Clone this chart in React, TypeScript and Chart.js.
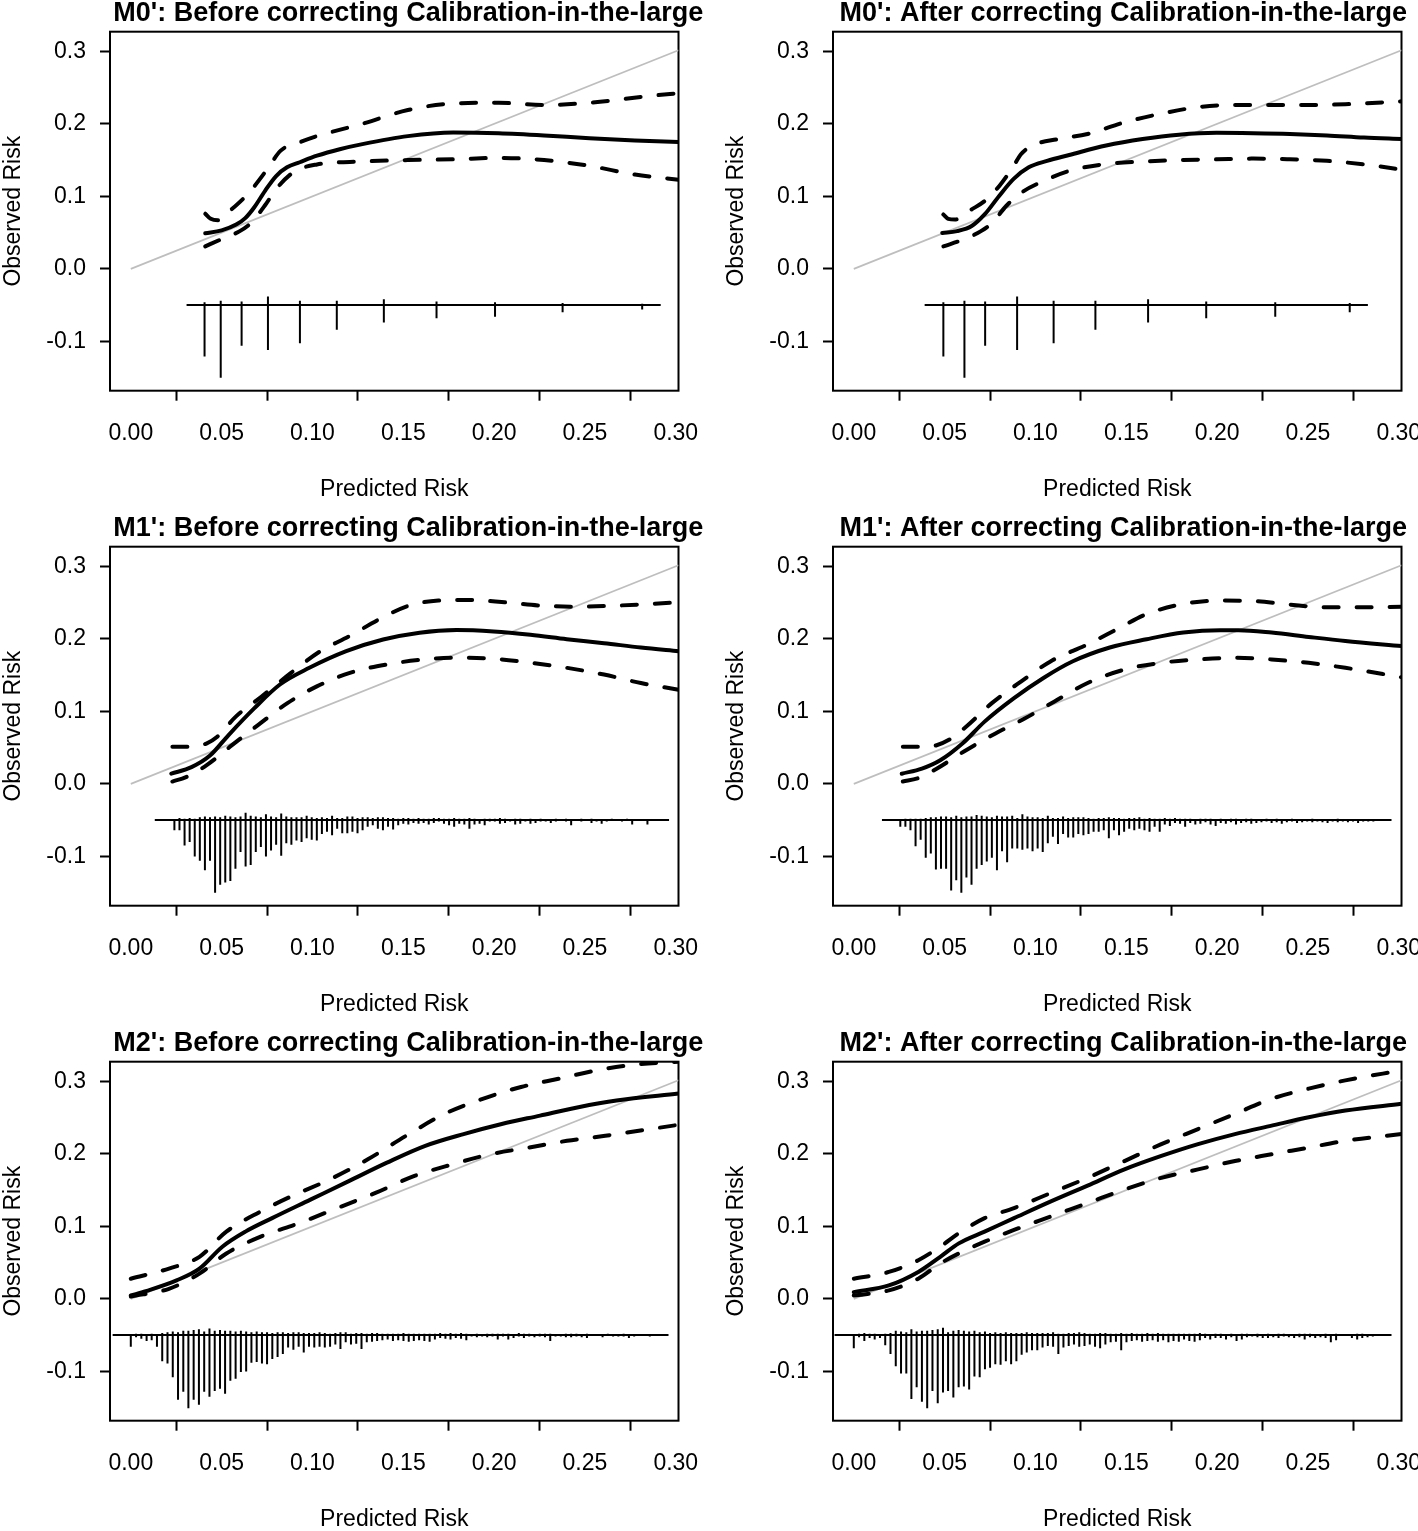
import React, { useEffect, useRef } from 'react';
import { Chart, registerables } from 'chart.js';

Chart.register(...registerables);

const FONT = '"Liberation Sans", Arial, Helvetica, sans-serif';

// ---------- axes ----------
const xTicks = [0, 0.05, 0.1, 0.15, 0.2, 0.25, 0.3];
const yTicks = [-0.1, 0, 0.1, 0.2, 0.3];
const xMin = -0.01145;
const xMax = 0.3015;
const yMin = -0.168;
const yMax = 0.327;
const xTitle = 'Predicted Risk';
const yTitle = 'Observed Risk';
const spikeBase = -0.05;
const diagX = [0, 0.3015];
const diagY = [0, 0.3015];

// ---------- M0' before ----------
const m0bSolidX = [0.041, 0.05, 0.058, 0.063, 0.068, 0.074, 0.08, 0.086, 0.093, 0.1025, 0.115, 0.1275, 0.1525, 0.1775, 0.2025, 0.2275, 0.2525, 0.2775, 0.3015];
const m0bSolidY = [0.049, 0.053, 0.061, 0.07, 0.085, 0.108, 0.128, 0.14, 0.147, 0.156, 0.165, 0.172, 0.183, 0.188, 0.187, 0.184, 0.18, 0.177, 0.175];
const m0bUpperX = [0.041, 0.044, 0.048, 0.055, 0.065, 0.075, 0.0825, 0.0925, 0.1025, 0.1275, 0.1525, 0.1775, 0.2025, 0.2275, 0.2525, 0.2875, 0.3015];
const m0bUpperY = [0.076, 0.069, 0.067, 0.081, 0.105, 0.137, 0.163, 0.174, 0.183, 0.2, 0.219, 0.228, 0.229, 0.226, 0.229, 0.239, 0.242];
const m0bLowerX = [0.041, 0.049, 0.06, 0.066, 0.074, 0.08, 0.09, 0.1025, 0.1275, 0.1525, 0.1775, 0.2025, 0.2275, 0.2525, 0.2775, 0.3015];
const m0bLowerY = [0.031, 0.04, 0.052, 0.063, 0.088, 0.11, 0.134, 0.144, 0.148, 0.15, 0.151, 0.153, 0.15, 0.142, 0.13, 0.123];
const m0bHistX = [0.0406, 0.0495, 0.061, 0.0755, 0.0931, 0.1134, 0.1393, 0.1683, 0.2005, 0.2377, 0.2815];
const m0bHistUp = [0.004, 0.006, 0.005, 0.012, 0.006, 0.006, 0.008, 0.005, 0.004, 0.003, 0.002];
const m0bHistDown = [0.071, 0.1, 0.056, 0.062, 0.0525, 0.034, 0.024, 0.018, 0.016, 0.01, 0.006];
const m0bHistRange = [0.0307, 0.2917];

// ---------- M0' after ----------
const m0aSolidX = [0.0487, 0.0568, 0.0649, 0.072, 0.08, 0.088, 0.0963, 0.1064, 0.1186, 0.1389, 0.159, 0.179, 0.1997, 0.22, 0.24, 0.2605, 0.2808, 0.3015];
const m0aSolidY = [0.0495, 0.052, 0.059, 0.075, 0.1005, 0.124, 0.14, 0.149, 0.157, 0.17, 0.179, 0.185, 0.1875, 0.187, 0.186, 0.184, 0.181, 0.179];
const m0aUpperX = [0.0493, 0.052, 0.0557, 0.0649, 0.072, 0.08, 0.088, 0.092, 0.0983, 0.1125, 0.1287, 0.149, 0.1693, 0.1895, 0.2098, 0.23, 0.2504, 0.2706, 0.3015];
const m0aUpperY = [0.075, 0.069, 0.068, 0.082, 0.0935, 0.114, 0.142, 0.158, 0.17, 0.179, 0.186, 0.202, 0.214, 0.223, 0.226, 0.226, 0.226, 0.227, 0.231];
const m0aLowerX = [0.0493, 0.0598, 0.07, 0.076, 0.084, 0.0922, 0.1044, 0.1186, 0.137, 0.159, 0.179, 0.1997, 0.22, 0.24, 0.2605, 0.2808, 0.3015];
const m0aLowerY = [0.031, 0.04, 0.052, 0.063, 0.087, 0.105, 0.121, 0.135, 0.144, 0.148, 0.15, 0.151, 0.152, 0.151, 0.149, 0.144, 0.137];
const m0aHistX = [0.0493, 0.0609, 0.0723, 0.0899, 0.11, 0.133, 0.162, 0.194, 0.232, 0.273];
const m0aHistUp = [0.004, 0.006, 0.005, 0.012, 0.006, 0.006, 0.008, 0.005, 0.004, 0.003];
const m0aHistDown = [0.071, 0.1, 0.056, 0.062, 0.0525, 0.034, 0.024, 0.018, 0.016, 0.01];
const m0aHistRange = [0.039, 0.283];

// ---------- M1' before ----------
const m1bSolidX = [0.0223, 0.0334, 0.0436, 0.0537, 0.0679, 0.0821, 0.0983, 0.1186, 0.1389, 0.159, 0.1794, 0.1997, 0.22, 0.24, 0.2605, 0.2808, 0.3015];
const m1bSolidY = [0.014, 0.023, 0.039, 0.067, 0.104, 0.137, 0.16, 0.183, 0.199, 0.2085, 0.212, 0.21, 0.2055, 0.1995, 0.194, 0.188, 0.183];
const m1bUpperX = [0.0229, 0.0324, 0.0416, 0.0476, 0.0578, 0.072, 0.0882, 0.1044, 0.1206, 0.1368, 0.153, 0.1693, 0.1855, 0.2058, 0.226, 0.2463, 0.2666, 0.3015];
const m1bUpperY = [0.051, 0.051, 0.0556, 0.065, 0.0927, 0.1205, 0.153, 0.183, 0.204, 0.227, 0.2457, 0.2527, 0.2536, 0.2503, 0.2457, 0.2443, 0.2457, 0.2503];
const m1bLowerX = [0.0229, 0.0304, 0.0416, 0.0557, 0.07, 0.0862, 0.1024, 0.1206, 0.1409, 0.1612, 0.1794, 0.1997, 0.22, 0.24, 0.2605, 0.2808, 0.3015];
const m1bLowerY = [0.0032, 0.0093, 0.0255, 0.0533, 0.081, 0.1113, 0.1344, 0.153, 0.1646, 0.1715, 0.1739, 0.1725, 0.1669, 0.16, 0.1507, 0.139, 0.1298];
const m1bHistX = [
  0.0240, 0.0268, 0.0296, 0.0324, 0.0352, 0.0380, 0.0408, 0.0436, 0.0464, 0.0492,
  0.0520, 0.0548, 0.0576, 0.0604, 0.0632, 0.0660, 0.0688, 0.0716, 0.0744, 0.0772,
  0.0800, 0.0828, 0.0856, 0.0884, 0.0912, 0.0940, 0.0968, 0.0996, 0.1024, 0.1052,
  0.1080, 0.1108, 0.1136, 0.1164, 0.1192, 0.1220, 0.1248, 0.1276, 0.1304, 0.1332,
  0.1360, 0.1388, 0.1416, 0.1444, 0.1472, 0.1500, 0.1528, 0.1556, 0.1584, 0.1612,
  0.1640, 0.1668, 0.1696, 0.1724, 0.1752, 0.1780, 0.1808, 0.1836, 0.1864, 0.1892,
  0.1920, 0.1948, 0.1976, 0.2004, 0.2032, 0.2060, 0.2088, 0.2116, 0.2144, 0.2172,
  0.2200, 0.2228, 0.2256, 0.2284, 0.2312, 0.2340, 0.2368, 0.2396, 0.2424, 0.2452,
  0.2480, 0.2508, 0.2536, 0.2564, 0.2592, 0.2620, 0.2648, 0.2676, 0.2704, 0.2732,
  0.2760, 0.2788, 0.2816, 0.2844,
];
const m1bHistUp = [
  0.001, 0.003, 0.002, 0.003, 0.002, 0.004, 0.005, 0.004, 0.005, 0.004,
  0.006, 0.005, 0.004, 0.005, 0.010, 0.006, 0.005, 0.004, 0.008, 0.005,
  0.004, 0.009, 0.005, 0.004, 0.004, 0.004, 0.006, 0.004, 0.003, 0.004,
  0.003, 0.006, 0.003, 0.003, 0.005, 0.005, 0.003, 0.004, 0.004, 0.003,
  0.004, 0.004, 0.003, 0.003, 0.002, 0.003, 0.003, 0.002, 0.003, 0.002,
  0.002, 0.003, 0.003, 0.002, 0.002, 0.003, 0.002, 0.002, 0.003, 0.002,
  0.001, 0.002, 0.002, 0.002, 0.003, 0.002, 0.001, 0.002, 0.002, 0.001,
  0.002, 0.001, 0.002, 0.001, 0.001, 0.002, 0.001, 0.002, 0.001, 0.001,
  0.002, 0.001, 0.002, 0.001, 0.001, 0.001, 0.002, 0.001, 0.001, 0.002,
  0.001, 0.001, 0.001, 0.001,
];
const m1bHistDown = [
  0.014, 0.014, 0.035, 0.030, 0.050, 0.056, 0.069, 0.056, 0.100, 0.089,
  0.086, 0.084, 0.067, 0.044, 0.064, 0.062, 0.044, 0.037, 0.050, 0.042,
  0.034, 0.049, 0.032, 0.034, 0.028, 0.030, 0.025, 0.027, 0.028, 0.019,
  0.016, 0.021, 0.012, 0.018, 0.018, 0.016, 0.018, 0.014, 0.009, 0.007,
  0.012, 0.014, 0.009, 0.013, 0.007, 0.005, 0.006, 0.004, 0.005, 0.004,
  0.006, 0.004, 0.002, 0.005, 0.007, 0.009, 0.005, 0.006, 0.012, 0.006,
  0.005, 0.007, 0.002, 0.002, 0.005, 0.004, 0.002, 0.006, 0.005, 0.002,
  0.005, 0.004, 0.002, 0.002, 0.004, 0.002, 0.001, 0.002, 0.007, 0.001,
  0.002, 0.001, 0.004, 0.002, 0.005, 0.002, 0.001, 0.001, 0.002, 0.001,
  0.006, 0.001, 0.001, 0.006,
];
const m1bHistRange = [0.0132, 0.2963];

// ---------- M1' after ----------
const m1aSolidX = [0.0264, 0.0375, 0.0476, 0.0598, 0.072, 0.0882, 0.1044, 0.1206, 0.1409, 0.1612, 0.1814, 0.2017, 0.2118, 0.23, 0.2504, 0.2706, 0.3015];
const m1aSolidY = [0.014, 0.021, 0.0325, 0.0556, 0.0858, 0.1182, 0.146, 0.169, 0.188, 0.1994, 0.2086, 0.2119, 0.2119, 0.2086, 0.2026, 0.197, 0.19];
const m1aUpperX = [0.027, 0.0365, 0.0456, 0.0537, 0.0618, 0.076, 0.0922, 0.1085, 0.1287, 0.1449, 0.1612, 0.1814, 0.2017, 0.222, 0.24, 0.2605, 0.2808, 0.3015];
const m1aUpperY = [0.051, 0.051, 0.0533, 0.0626, 0.0788, 0.1113, 0.1414, 0.1692, 0.1924, 0.2133, 0.2341, 0.248, 0.2527, 0.2517, 0.2471, 0.2434, 0.2434, 0.2443];
const m1aLowerX = [0.027, 0.0355, 0.0456, 0.0618, 0.078, 0.0943, 0.1105, 0.1287, 0.149, 0.1693, 0.1895, 0.2098, 0.23, 0.2504, 0.2706, 0.3015];
const m1aLowerY = [0.0032, 0.0079, 0.0209, 0.0464, 0.0695, 0.0904, 0.1136, 0.1391, 0.1576, 0.1669, 0.1715, 0.1739, 0.1715, 0.1669, 0.16, 0.147];
const m1aHistX = [
  0.0256, 0.0284, 0.0312, 0.0340, 0.0368, 0.0396, 0.0424, 0.0452, 0.0480, 0.0508,
  0.0536, 0.0564, 0.0592, 0.0620, 0.0648, 0.0676, 0.0704, 0.0732, 0.0760, 0.0788,
  0.0816, 0.0844, 0.0872, 0.0900, 0.0928, 0.0956, 0.0984, 0.1012, 0.1040, 0.1068,
  0.1096, 0.1124, 0.1152, 0.1180, 0.1208, 0.1236, 0.1264, 0.1292, 0.1320, 0.1348,
  0.1376, 0.1404, 0.1432, 0.1460, 0.1488, 0.1516, 0.1544, 0.1572, 0.1600, 0.1628,
  0.1656, 0.1684, 0.1712, 0.1740, 0.1768, 0.1796, 0.1824, 0.1852, 0.1880, 0.1908,
  0.1936, 0.1964, 0.1992, 0.2020, 0.2048, 0.2076, 0.2104, 0.2132, 0.2160, 0.2188,
  0.2216, 0.2244, 0.2272, 0.2300, 0.2328, 0.2356, 0.2384, 0.2412, 0.2440, 0.2468,
  0.2496, 0.2524, 0.2552, 0.2580, 0.2608, 0.2636, 0.2664, 0.2692, 0.2720, 0.2748,
  0.2776, 0.2804, 0.2832, 0.2860,
];
const m1aHistUp = [
  0.000, 0.002, 0.002, 0.002, 0.002, 0.003, 0.004, 0.004, 0.005, 0.005,
  0.004, 0.006, 0.004, 0.005, 0.005, 0.007, 0.006, 0.005, 0.004, 0.006,
  0.005, 0.005, 0.006, 0.003, 0.008, 0.005, 0.004, 0.004, 0.003, 0.006,
  0.003, 0.003, 0.005, 0.003, 0.004, 0.004, 0.004, 0.003, 0.002, 0.003,
  0.003, 0.004, 0.003, 0.003, 0.002, 0.003, 0.003, 0.004, 0.002, 0.003,
  0.002, 0.002, 0.003, 0.002, 0.003, 0.002, 0.002, 0.002, 0.001, 0.002,
  0.002, 0.002, 0.001, 0.002, 0.001, 0.002, 0.002, 0.001, 0.002, 0.002,
  0.001, 0.001, 0.002, 0.001, 0.002, 0.001, 0.001, 0.002, 0.001, 0.001,
  0.001, 0.002, 0.001, 0.001, 0.001, 0.001, 0.002, 0.001, 0.001, 0.001,
  0.001, 0.001, 0.001, 0.001,
];
const m1aHistDown = [
  0.009, 0.009, 0.014, 0.036, 0.027, 0.052, 0.046, 0.068, 0.067, 0.067,
  0.097, 0.083, 0.100, 0.079, 0.089, 0.067, 0.062, 0.057, 0.052, 0.069,
  0.043, 0.058, 0.039, 0.039, 0.041, 0.039, 0.043, 0.039, 0.044, 0.032,
  0.023, 0.033, 0.019, 0.024, 0.024, 0.019, 0.021, 0.019, 0.016, 0.016,
  0.014, 0.025, 0.014, 0.021, 0.016, 0.012, 0.014, 0.012, 0.014, 0.016,
  0.009, 0.016, 0.006, 0.008, 0.004, 0.005, 0.009, 0.004, 0.006, 0.005,
  0.003, 0.006, 0.008, 0.004, 0.005, 0.003, 0.006, 0.004, 0.003, 0.005,
  0.004, 0.003, 0.002, 0.004, 0.003, 0.005, 0.003, 0.002, 0.004, 0.003,
  0.002, 0.003, 0.002, 0.003, 0.004, 0.002, 0.003, 0.002, 0.003, 0.002,
  0.004, 0.002, 0.002, 0.002,
];
const m1aHistRange = [0.0155, 0.296];

// ---------- M2' (shared spike grid) ----------
const m2HistX = [
  0.0000, 0.0029, 0.0058, 0.0087, 0.0115, 0.0144, 0.0173, 0.0202, 0.0231, 0.0260,
  0.0289, 0.0317, 0.0346, 0.0375, 0.0404, 0.0433, 0.0462, 0.0491, 0.0519, 0.0548,
  0.0577, 0.0606, 0.0635, 0.0664, 0.0693, 0.0722, 0.0750, 0.0779, 0.0808, 0.0837,
  0.0866, 0.0895, 0.0924, 0.0952, 0.0981, 0.1010, 0.1039, 0.1068, 0.1097, 0.1126,
  0.1154, 0.1183, 0.1212, 0.1241, 0.1270, 0.1299, 0.1328, 0.1356, 0.1385, 0.1414,
  0.1443, 0.1472, 0.1501, 0.1530, 0.1558, 0.1587, 0.1616, 0.1645, 0.1674, 0.1703,
  0.1732, 0.1760, 0.1789, 0.1818, 0.1847, 0.1876, 0.1905, 0.1934, 0.1962, 0.1991,
  0.2020, 0.2049, 0.2078, 0.2107, 0.2136, 0.2164, 0.2193, 0.2222, 0.2251, 0.2280,
  0.2309, 0.2338, 0.2367, 0.2395, 0.2424, 0.2453, 0.2482, 0.2511, 0.2540, 0.2569,
  0.2597, 0.2626, 0.2655, 0.2684, 0.2713, 0.2742, 0.2771, 0.2799, 0.2828, 0.2857,
];

// ---------- M2' before ----------
const m2bSolidX = [0, 0.0083, 0.0252, 0.0378, 0.0504, 0.0631, 0.0778, 0.0989, 0.12, 0.141, 0.1621, 0.1832, 0.2042, 0.2253, 0.2464, 0.2674, 0.3015];
const m2bSolidY = [0.0046, 0.0107, 0.0255, 0.0417, 0.0719, 0.0927, 0.1113, 0.1368, 0.1623, 0.1878, 0.211, 0.2272, 0.2411, 0.2527, 0.2643, 0.2735, 0.283];
const m2bUpperX = [0, 0.021, 0.0378, 0.0526, 0.0715, 0.0884, 0.1094, 0.1305, 0.1516, 0.1727, 0.1937, 0.2148, 0.2359, 0.257, 0.278, 0.3015];
const m2bUpperY = [0.0278, 0.0417, 0.058, 0.0927, 0.1205, 0.1414, 0.1646, 0.1924, 0.2249, 0.255, 0.2758, 0.2921, 0.3037, 0.3153, 0.3231, 0.327];
const m2bLowerX = [0, 0.021, 0.0378, 0.0526, 0.0715, 0.0926, 0.1137, 0.1347, 0.1558, 0.1769, 0.198, 0.219, 0.2401, 0.2612, 0.3015];
const m2bLowerY = [0.0032, 0.0139, 0.0348, 0.0626, 0.0858, 0.1043, 0.1252, 0.146, 0.1692, 0.1854, 0.1994, 0.2086, 0.2179, 0.2249, 0.24];
const m2bHistUp = [
  0.000, 0.002, 0.002, 0.001, 0.002, 0.001, 0.003, 0.004, 0.005, 0.004,
  0.006, 0.006, 0.007, 0.008, 0.005, 0.009, 0.006, 0.007, 0.006, 0.006,
  0.005, 0.006, 0.005, 0.004, 0.005, 0.004, 0.004, 0.003, 0.004, 0.004,
  0.003, 0.004, 0.004, 0.003, 0.003, 0.003, 0.004, 0.003, 0.002, 0.003,
  0.004, 0.004, 0.002, 0.003, 0.003, 0.002, 0.003, 0.003, 0.002, 0.002,
  0.002, 0.002, 0.003, 0.002, 0.002, 0.002, 0.002, 0.002, 0.002, 0.003,
  0.002, 0.003, 0.002, 0.003, 0.002, 0.001, 0.002, 0.001, 0.002, 0.002,
  0.002, 0.002, 0.002, 0.001, 0.003, 0.002, 0.002, 0.001, 0.002, 0.002,
  0.002, 0.001, 0.001, 0.002, 0.002, 0.002, 0.001, 0.002, 0.001, 0.001,
  0.001, 0.002, 0.001, 0.001, 0.002, 0.001, 0.001, 0.001, 0.001, 0.001,
];
const m2bHistDown = [
  0.016, 0.003, 0.005, 0.008, 0.007, 0.016, 0.036, 0.039, 0.058, 0.089,
  0.078, 0.101, 0.089, 0.096, 0.078, 0.085, 0.077, 0.074, 0.081, 0.063,
  0.060, 0.051, 0.050, 0.038, 0.037, 0.039, 0.040, 0.033, 0.030, 0.026,
  0.017, 0.020, 0.016, 0.024, 0.016, 0.017, 0.016, 0.017, 0.016, 0.013,
  0.019, 0.010, 0.013, 0.012, 0.019, 0.010, 0.009, 0.008, 0.007, 0.006,
  0.008, 0.007, 0.008, 0.009, 0.008, 0.007, 0.008, 0.009, 0.006, 0.004,
  0.005, 0.006, 0.004, 0.005, 0.007, 0.002, 0.003, 0.002, 0.003, 0.002,
  0.006, 0.002, 0.006, 0.004, 0.002, 0.004, 0.002, 0.003, 0.002, 0.003,
  0.008, 0.002, 0.002, 0.003, 0.003, 0.002, 0.003, 0.004, 0.001, 0.001,
  0.003, 0.001, 0.002, 0.002, 0.002, 0.004, 0.002, 0.001, 0.001, 0.002,
];
const m2bHistRange = [-0.01, 0.296];

// ---------- M2' after ----------
const m2aSolidX = [0, 0.0193, 0.0355, 0.0476, 0.0578, 0.072, 0.0882, 0.1085, 0.1287, 0.149, 0.1693, 0.1895, 0.2098, 0.23, 0.2504, 0.2706, 0.3015];
const m2aSolidY = [0.0093, 0.0185, 0.0371, 0.058, 0.0765, 0.0927, 0.1113, 0.1344, 0.1562, 0.1785, 0.197, 0.2133, 0.2272, 0.2388, 0.2503, 0.2596, 0.2689];
const m2aUpperX = [0, 0.0193, 0.0355, 0.0476, 0.0578, 0.072, 0.0882, 0.1085, 0.1287, 0.149, 0.1693, 0.1895, 0.2098, 0.23, 0.2504, 0.2706, 0.3015];
const m2aUpperY = [0.0278, 0.0371, 0.0533, 0.0719, 0.0904, 0.1113, 0.1252, 0.146, 0.1669, 0.19, 0.2133, 0.2341, 0.255, 0.2758, 0.2898, 0.3013, 0.315];
const m2aLowerX = [0, 0.0193, 0.0355, 0.0476, 0.0578, 0.072, 0.0882, 0.1085, 0.1287, 0.149, 0.1693, 0.1895, 0.2098, 0.23, 0.2504, 0.2706, 0.3015];
const m2aLowerY = [0.0046, 0.0116, 0.0278, 0.0487, 0.0626, 0.0788, 0.095, 0.1136, 0.1321, 0.1507, 0.1669, 0.1785, 0.19, 0.1994, 0.2086, 0.2179, 0.2272];
const m2aHistUp = [
  0.000, 0.002, 0.003, 0.002, 0.002, 0.001, 0.002, 0.003, 0.006, 0.005,
  0.004, 0.008, 0.005, 0.006, 0.006, 0.007, 0.008, 0.010, 0.004, 0.006,
  0.007, 0.006, 0.005, 0.006, 0.004, 0.005, 0.003, 0.004, 0.003, 0.004,
  0.003, 0.003, 0.003, 0.004, 0.003, 0.003, 0.003, 0.003, 0.004, 0.002,
  0.002, 0.003, 0.003, 0.004, 0.003, 0.002, 0.002, 0.003, 0.003, 0.002,
  0.002, 0.003, 0.002, 0.003, 0.002, 0.002, 0.003, 0.002, 0.003, 0.002,
  0.002, 0.002, 0.002, 0.002, 0.002, 0.002, 0.003, 0.002, 0.001, 0.002,
  0.002, 0.001, 0.002, 0.001, 0.002, 0.002, 0.001, 0.002, 0.001, 0.002,
  0.001, 0.002, 0.002, 0.001, 0.001, 0.002, 0.002, 0.002, 0.001, 0.001,
  0.002, 0.001, 0.002, 0.000, 0.000, 0.001, 0.002, 0.002, 0.001, 0.001,
];
const m2aHistDown = [
  0.018, 0.003, 0.008, 0.004, 0.006, 0.004, 0.014, 0.026, 0.043, 0.053,
  0.053, 0.088, 0.072, 0.092, 0.101, 0.077, 0.094, 0.079, 0.077, 0.086,
  0.072, 0.071, 0.075, 0.057, 0.058, 0.047, 0.045, 0.040, 0.041, 0.036,
  0.040, 0.036, 0.027, 0.024, 0.021, 0.021, 0.017, 0.015, 0.016, 0.026,
  0.017, 0.015, 0.013, 0.016, 0.015, 0.013, 0.016, 0.018, 0.013, 0.010,
  0.009, 0.021, 0.010, 0.008, 0.007, 0.009, 0.008, 0.007, 0.009, 0.007,
  0.010, 0.008, 0.009, 0.006, 0.008, 0.009, 0.007, 0.004, 0.006, 0.004,
  0.004, 0.006, 0.003, 0.008, 0.006, 0.003, 0.002, 0.003, 0.004, 0.004,
  0.003, 0.004, 0.002, 0.003, 0.004, 0.003, 0.006, 0.003, 0.004, 0.003,
  0.004, 0.010, 0.007, 0.000, 0.000, 0.004, 0.006, 0.004, 0.003, 0.002,
];
const m2aHistRange = [-0.0106, 0.296];

// ---------- panel definitions ----------
type PanelSpec = {
  title: string;
  solid: [number[], number[]];
  upper: [number[], number[]];
  lower: [number[], number[]];
  histX: number[];
  histUp: number[];
  histDown: number[];
  histRange: number[];
  col: number;
  row: number;
  titleShift: number;
};

const CANVAS_H = 500;
const COL_LEFT = [0, 723];
const COL_WIDTH = [723, 695];
const AREA_RIGHT = 678.5; // right edge of the plot box inside each canvas
const ROW_TOP = [0, 515, 1030];

const panels: PanelSpec[] = [
  { title: "M0': Before correcting Calibration-in-the-large", solid: [m0bSolidX, m0bSolidY], upper: [m0bUpperX, m0bUpperY], lower: [m0bLowerX, m0bLowerY], histX: m0bHistX, histUp: m0bHistUp, histDown: m0bHistDown, histRange: m0bHistRange, col: 0, row: 0, titleShift: 14 },
  { title: "M0': After correcting Calibration-in-the-large", solid: [m0aSolidX, m0aSolidY], upper: [m0aUpperX, m0aUpperY], lower: [m0aLowerX, m0aLowerY], histX: m0aHistX, histUp: m0aHistUp, histDown: m0aHistDown, histRange: m0aHistRange, col: 1, row: 0, titleShift: 6 },
  { title: "M1': Before correcting Calibration-in-the-large", solid: [m1bSolidX, m1bSolidY], upper: [m1bUpperX, m1bUpperY], lower: [m1bLowerX, m1bLowerY], histX: m1bHistX, histUp: m1bHistUp, histDown: m1bHistDown, histRange: m1bHistRange, col: 0, row: 1, titleShift: 14 },
  { title: "M1': After correcting Calibration-in-the-large", solid: [m1aSolidX, m1aSolidY], upper: [m1aUpperX, m1aUpperY], lower: [m1aLowerX, m1aLowerY], histX: m1aHistX, histUp: m1aHistUp, histDown: m1aHistDown, histRange: m1aHistRange, col: 1, row: 1, titleShift: 6 },
  { title: "M2': Before correcting Calibration-in-the-large", solid: [m2bSolidX, m2bSolidY], upper: [m2bUpperX, m2bUpperY], lower: [m2bLowerX, m2bLowerY], histX: m2HistX, histUp: m2bHistUp, histDown: m2bHistDown, histRange: m2bHistRange, col: 0, row: 2, titleShift: 14 },
  { title: "M2': After correcting Calibration-in-the-large", solid: [m2aSolidX, m2aSolidY], upper: [m2aUpperX, m2aUpperY], lower: [m2aLowerX, m2aLowerY], histX: m2HistX, histUp: m2aHistUp, histDown: m2aHistDown, histRange: m2aHistRange, col: 1, row: 2, titleShift: 6 },
];

const toPts = (xs: number[], ys: number[]) => xs.map((x, i) => ({ x, y: ys[i] }));

const framePlugin = {
  id: 'frameBox',
  beforeDatasetsDraw(chart: any) {
    const { ctx, chartArea } = chart;
    ctx.save();
    ctx.strokeStyle = '#000';
    ctx.lineWidth = 2;
    ctx.strokeRect(chartArea.left, chartArea.top, chartArea.right - chartArea.left, chartArea.bottom - chartArea.top);
    ctx.restore();
  },
};

const panelTitlePlugin = {
  id: 'panelTitle',
  afterDraw(chart: any, _args: any, opts: any) {
    const { ctx, chartArea } = chart;
    ctx.save();
    ctx.fillStyle = '#000';
    ctx.font = `bold 27px ${FONT}`;
    ctx.textAlign = 'center';
    ctx.textBaseline = 'middle';
    ctx.fillText(opts.text, (chartArea.left + chartArea.right) / 2 + opts.shift, 14);
    ctx.restore();
  },
};

function buildConfig(p: PanelSpec): any {
  const width = COL_WIDTH[p.col];
  const lineBase = {
    type: 'line',
    borderColor: '#000',
    pointRadius: 0,
    fill: false,
    borderCapStyle: 'round',
    borderJoinStyle: 'round',
    cubicInterpolationMode: 'monotone',
  };
  return {
    type: 'line',
    data: {
      datasets: [
        { ...lineBase, data: toPts(p.solid[0], p.solid[1]), borderWidth: 4, order: 0 },
        { ...lineBase, data: toPts(p.upper[0], p.upper[1]), borderWidth: 4, borderDash: [15, 18], order: 1 },
        { ...lineBase, data: toPts(p.lower[0], p.lower[1]), borderWidth: 4, borderDash: [15, 18], order: 1 },
        {
          type: 'bar',
          data: p.histX.map((x, i) => ({ x, y: [spikeBase - p.histDown[i], spikeBase + p.histUp[i]] })),
          backgroundColor: '#000',
          borderWidth: 0,
          barThickness: 2,
          inflateAmount: 0,
          order: 2,
        },
        {
          type: 'line',
          data: [{ x: p.histRange[0], y: spikeBase }, { x: p.histRange[1], y: spikeBase }],
          borderColor: '#000',
          borderWidth: 2,
          pointRadius: 0,
          order: 2,
        },
        {
          type: 'line',
          data: toPts(diagX, diagY),
          borderColor: '#bebebe',
          borderWidth: 1.7,
          pointRadius: 0,
          order: 3,
        },
      ],
    },
    options: {
      animation: false,
      responsive: false,
      maintainAspectRatio: false,
      events: [],
      layout: { padding: { top: 31.7, right: width - AREA_RIGHT, bottom: 0, left: 0 } },
      plugins: {
        legend: { display: false },
        tooltip: { enabled: false },
        title: { display: false },
        panelTitle: { text: p.title, shift: p.titleShift },
      },
      scales: {
        x: {
          type: 'linear',
          min: xMin,
          max: xMax,
          offset: false,
          afterBuildTicks: (s: any) => { s.ticks = xTicks.map((v) => ({ value: v })); },
          afterFit: (s: any) => { s.height = 109.3; s.paddingLeft = 0; s.paddingRight = 0; },
          grid: { drawOnChartArea: false, drawTicks: true, tickLength: 10, tickWidth: 2, tickColor: '#000' },
          border: { display: false },
          ticks: {
            autoSkip: false,
            maxRotation: 0,
            padding: 19,
            color: '#000',
            font: { family: FONT, size: 23 },
            callback: (v: number) => Number(v).toFixed(2),
          },
          title: { display: true, text: xTitle, color: '#000', font: { family: FONT, size: 23, lineHeight: 0.87 }, padding: 0 },
        },
        y: {
          type: 'linear',
          min: yMin,
          max: yMax,
          afterBuildTicks: (s: any) => { s.ticks = yTicks.map((v) => ({ value: v })); },
          afterFit: (s: any) => { s.width = 110; s.paddingTop = 0; s.paddingBottom = 0; },
          grid: { drawOnChartArea: false, drawTicks: true, tickLength: 10, tickWidth: 2, tickColor: '#000' },
          border: { display: false },
          ticks: {
            autoSkip: false,
            padding: 14,
            color: '#000',
            font: { family: FONT, size: 23 },
            callback: (v: number) => Number(v).toFixed(1),
          },
          title: { display: true, text: yTitle, color: '#000', font: { family: FONT, size: 23, lineHeight: 1 }, padding: { top: 2, bottom: 0 } },
        },
      },
    },
    plugins: [framePlugin, panelTitlePlugin],
  };
}

function Panel({ spec }: { spec: PanelSpec }) {
  const ref = useRef<HTMLCanvasElement>(null);
  const w = COL_WIDTH[spec.col];
  useEffect(() => {
    if (!ref.current) return;
    const chart = new Chart(ref.current, buildConfig(spec));
    return () => chart.destroy();
  }, [spec]);
  return (
    <canvas
      ref={ref}
      width={w}
      height={CANVAS_H}
      style={{ position: 'absolute', left: COL_LEFT[spec.col], top: ROW_TOP[spec.row], width: w, height: CANVAS_H, display: 'block' }}
    />
  );
}

export default function App() {
  return (
    <div style={{ position: 'absolute', left: 0, top: 0, width: 1418, height: 1531, background: '#fff', overflow: 'hidden' }}>
      {panels.map((p, i) => (
        <Panel key={i} spec={p} />
      ))}
    </div>
  );
}
